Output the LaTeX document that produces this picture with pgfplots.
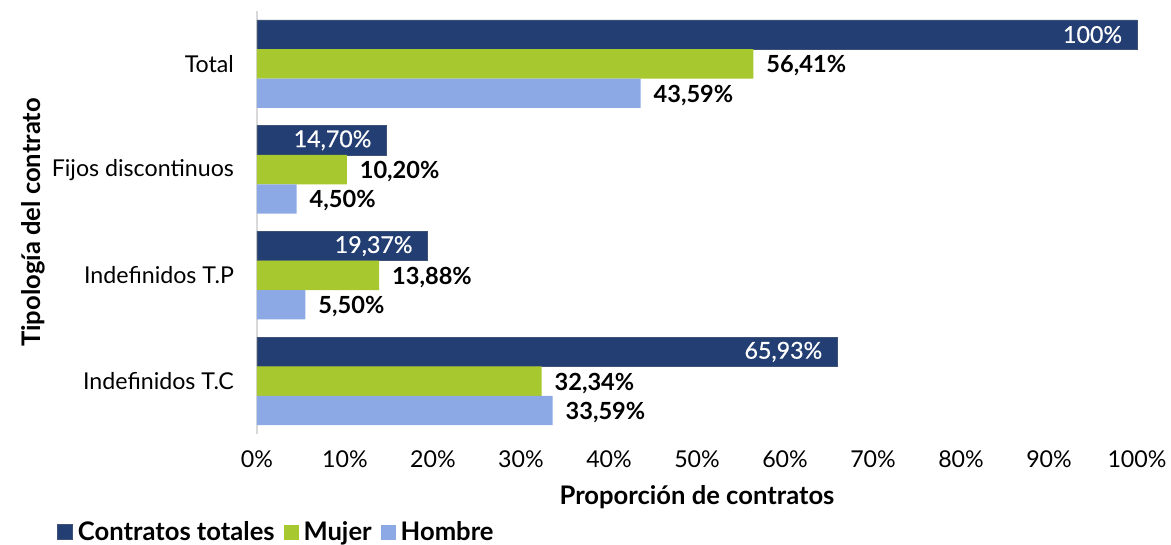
\documentclass[border=0pt]{standalone}
\usepackage{pgfplots}
\pgfplotsset{compat=1.18}
\usepackage{fontspec}
\setmainfont{Lato}
\newfontfamily\latosemi[FakeBold=0.6]{Lato}
\definecolor{cnavy}{HTML}{223E72}
\definecolor{cgreen}{HTML}{A7C82E}
\definecolor{cblue}{HTML}{8CA9E6}
\definecolor{caxis}{HTML}{D9D9D9}
\begin{document}
\begin{tikzpicture}
\useasboundingbox (-128.5pt,-55.5pt) rectangle (457pt,217pt);
\begin{axis}[
  at={(0,0)}, anchor=south west,
  scale only axis,
  width=440pt, height=211.5pt,
  xbar, bar width=14.65pt,
  xmin=0, xmax=100, ymin=-0.5, ymax=3.5,
  axis line style={draw=none},
  major tick length=0pt,
  xtick={0,10,...,100},
  xticklabels={0\%,10\%,20\%,30\%,40\%,50\%,60\%,70\%,80\%,90\%,100\%},
  ytick={0,1,2,3},
  yticklabels={Indefinidos T.C,Indefinidos T.P,Fijos discontinuos,Total},
  tick label style={font=\fontsize{11.6}{13}\selectfont, text=black},
  xticklabel style={yshift=-5pt},
  yticklabel style={xshift=-8pt},
  xlabel={Proporción de contratos},
  ylabel={Tipología del contrato},
  label style={font=\bfseries\fontsize{12.8}{14}\selectfont},
  xlabel style={at={(axis description cs:0.5,-0.149)}, anchor=center},
  ylabel style={at={(axis description cs:-0.2545,0.5)}, anchor=center},
  point meta=explicit symbolic,
  nodes near coords,
  legend columns=3,
  legend style={at={(axis description cs:-0.2273,-0.232)}, anchor=west, draw=none,
    font=\bfseries\fontsize{12.8}{14}\selectfont, column sep=0pt, inner sep=0pt,
    /tikz/every odd column/.append style={column sep=0.5pt},
    /tikz/every even column/.append style={column sep=2.5pt}},
  legend image code/.code={\fill[#1] (0pt,-3.75pt) rectangle (7.5pt,3.75pt);},
  clip=false,
]
\draw[caxis, line width=0.6pt] (axis cs:0,-0.5) -- (axis cs:0,3.5);
\addplot[fill=cnavy, draw=cnavy!70!gray, line width=0.3pt, bar shift=14.65pt,
  every node near coord/.append style={anchor=east, xshift=-4pt, text=white, font=\latosemi\fontsize{11.6}{13}\selectfont}]
  coordinates {(65.93,0) [65,93\%] (19.37,1) [19,37\%] (14.70,2) [14,70\%] (100,3) [100\%]};
\addlegendentry{Contratos totales}
\addplot[fill=cgreen, draw=none, bar shift=0pt,
  every node near coord/.append style={anchor=west, xshift=3pt, yshift=-1pt, text=black, font=\bfseries\fontsize{11.8}{13}\selectfont}]
  coordinates {(32.34,0) [32,34\%] (13.88,1) [13,88\%] (10.20,2) [10,20\%] (56.41,3) [56,41\%]};
\addlegendentry{Mujer}
\addplot[fill=cblue, draw=none, bar shift=-14.65pt,
  every node near coord/.append style={anchor=west, xshift=3pt, yshift=-1pt, text=black, font=\bfseries\fontsize{11.8}{13}\selectfont}]
  coordinates {(33.59,0) [33,59\%] (5.50,1) [5,50\%] (4.50,2) [4,50\%] (43.59,3) [43,59\%]};
\addlegendentry{Hombre}
\end{axis}
\end{tikzpicture}
\end{document}
